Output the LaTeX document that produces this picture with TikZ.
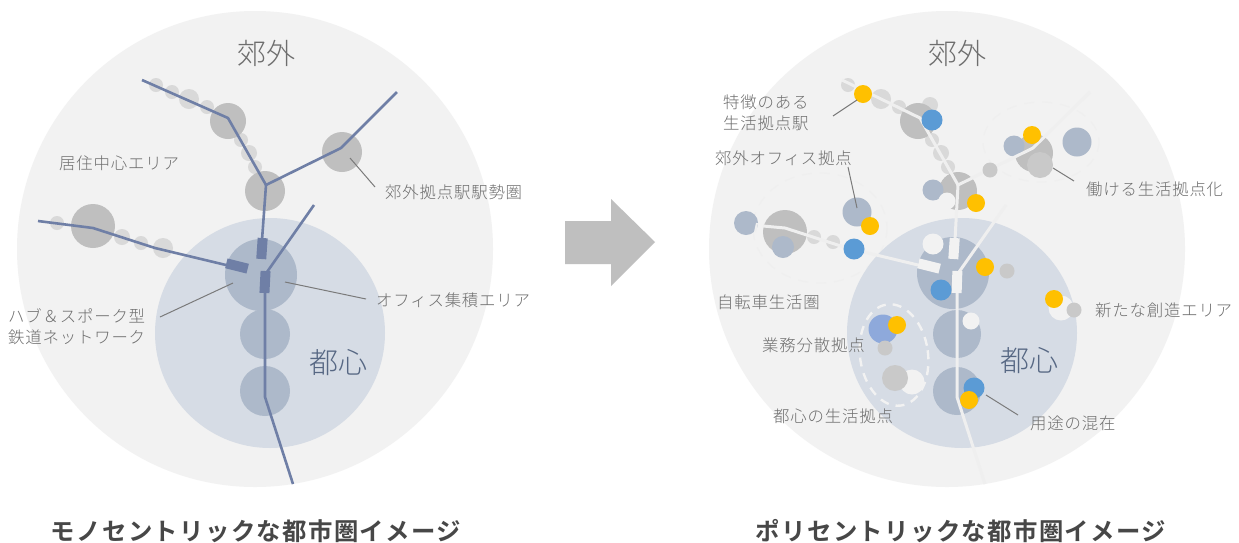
\documentclass[tikz,border=0pt]{standalone}
\usepackage{fontspec}
\setmainfont{Noto Sans CJK JP Light}[BoldFont=Noto Sans CJK JP Bold]
\definecolor{bgc}{HTML}{F2F2F2}
\definecolor{lin}{HTML}{EFEFEF}
\definecolor{cen}{HTML}{D6DCE5}
\definecolor{core}{HTML}{ADB9CA}
\definecolor{gr}{HTML}{BFBFBF}
\definecolor{lg}{HTML}{D9D9D9}
\definecolor{mg}{HTML}{C9C9C9}
\definecolor{rail}{HTML}{6F7FA6}
\definecolor{yel}{HTML}{FFC000}
\definecolor{blu}{HTML}{5B9BD5}
\definecolor{per}{HTML}{8EA9DB}
\definecolor{txt}{HTML}{6E6E6E}
\definecolor{dk}{HTML}{566783}
\tikzset{
 x=1pt,y=-1pt,
 lbl/.style={text=txt,font=\fontsize{16.4}{21}\selectfont\addfontfeature{LetterSpace=5},align=left,inner sep=0pt},
 big/.style={text=txt,font=\fontsize{29}{32}\selectfont,inner sep=0pt},
 ttl/.style={text=black!72,font=\bfseries\fontsize{24.4}{26}\selectfont\addfontfeature{LetterSpace=5.5},inner sep=0pt},
 lead/.style={draw=black!52,line width=1pt},
 line1/.style={draw=rail,line width=2.6pt},
 line2/.style={draw=lin,line width=3pt},
}
\begin{document}
\begin{tikzpicture}
\useasboundingbox (0,0) rectangle (1239,542);
\fill[white] (0,0) rectangle (1239,542);
% LEFT
\fill[bgc] (255,249) circle (238);
\fill[cen] (270,333) circle (115);
\fill[core] (261,275) circle (36);
\fill[core] (265,334) circle (25);
\fill[core] (265,391) circle (25);
\foreach \x/\y/\r in {156/85/7,172/92/7,189/99/10,207/107/7,241/140/7,249/153/8,255/167/7,57/223/7,122/237/8,141/243/7,163/248/10}{\fill[lg] (\x,\y) circle (\r);}
\foreach \x/\y/\r in {228/121/18,265/191/20,342/152/20,93/226/22}{\fill[gr] (\x,\y) circle (\r);}
\coordinate (a1) at (142,80); \coordinate (a2) at (228,118); \coordinate (a3) at (266,185);
\coordinate (b1) at (397,92); \coordinate (b2) at (341,148);
\coordinate (c1) at (38,221); \coordinate (c2) at (93,228); \coordinate (c3) at (155,248); \coordinate (c4) at (226,265);
\coordinate (d1) at (314,205); \coordinate (d2) at (267,272);
\coordinate (e1) at (265,397); \coordinate (e2) at (293,484);
\draw[line1,line join=round] (a1)--(a2)--(a3)--(b2)--(b1);
\draw[line1,line join=round] (a3)--(262,240);
\draw[line1,line join=round] (c1)--(c2)--(c3)--(c4);
\draw[line1] (d1)--(d2);
\draw[line1,line join=round] (265,290)--(e1)--(e2);
\fill[rail,rotate around={-4:(262,248)}] (257,238) rectangle (267,259);
\fill[rail,rotate around={-14:(237,266)}] (226,261) rectangle (248,271);
\fill[rail,rotate around={-3:(265,282)}] (260,271) rectangle (270,293);
\draw[lead] (350,158) -- (375,187);
\draw[lead] (233,283) -- (160,317);
\draw[lead] (285,282) -- (366,299);
\node[big,anchor=center] at (266,53) {郊外};
\node[big,anchor=center,text=dk] at (338,363) {都心};
\node[lbl,anchor=west] at (59,163) {居住中心エリア};
\node[lbl,anchor=west] at (385,192) {郊外拠点駅駅勢圏};
\node[lbl,anchor=west] at (376,300) {オフィス集積エリア};
\node[lbl,anchor=west] at (8,327) {ハブ＆スポーク型\\鉄道ネットワーク};
\node[ttl,anchor=center] at (256,531) {モノセントリックな都市圏イメージ};
% arrow
\fill[gr] (565,221) -- (611,221) -- (611,199) -- (655,242) -- (611,286) -- (611,264) -- (565,264) -- cycle;
% RIGHT
\fill[bgc] (947,249) circle (238);
\draw[lin,line width=1.2pt,dash pattern=on 10pt off 8pt] (1041,142) ellipse (58 and 40);
\draw[lin,line width=1.2pt,dash pattern=on 10pt off 8pt] (820,228) ellipse (67 and 55);
\fill[cen] (962,333) circle (115);
\fill[core] (953,273) circle (36);
\fill[core] (957,334) circle (24);
\fill[core] (957,391) circle (24);
\foreach \x/\y/\r in {848/85/7,881/99/10,899/107/7,930/105/8,932/140/7,941/153/8,948/167/7,814/237/7,833/242/7}{\fill[lg] (\x,\y) circle (\r);}
\foreach \x/\y/\r in {918/121/18,958/191/19,785/232/22}{\fill[gr] (\x,\y) circle (\r);}
\fill[gr] (1034,153) circle (19);
\fill[core] (746,223) circle (12);
\fill[core] (857,212) circle (14.5);
\fill[core] (933,190) circle (10.5);
\fill[core] (1014,146) circle (10.5);
\fill[core] (1077,142) circle (14.5);
\fill[bgc] (947,201) circle (8.5);
% white lines
\draw[line2,line join=round] (842,80)--(920,118)--(958,185)--(1033,148)--(1090,92);
\draw[line2] (958,185)--(955,240);
\draw[line2,line join=round] (763,226)--(785,228)--(847,248)--(918,265);
\draw[line2] (1006,205)--(959,272);
\draw[line2,line join=round] (957,290)--(957,397)--(985,484);
\draw[lin,line width=2pt] (757,223)--(755,232);
\fill[core] (783,247) circle (11);
\fill[mg] (1040,165) circle (13);
\fill[mg] (990,170) circle (7.5);
\fill[bgc,rotate around={-4:(954,249)}] (949,238) rectangle (959,259);
\fill[bgc,rotate around={-14:(929,266)}] (918,261) rectangle (940,271);
\fill[bgc,rotate around={-2:(957,282)}] (952,271) rectangle (962,293);
% centre dots
\fill[bgc] (933,244) circle (10.5);
\fill[bgc] (971,321) circle (8.5);
\fill[bgc] (1061,308) circle (12.5);
\fill[mg] (1074,310) circle (7.5);
\fill[mg] (1007,271) circle (7.5);
\fill[per] (883,329) circle (14.5);
\fill[mg] (885,348) circle (7.5);
\fill[bgc] (912,382) circle (12.5);
\fill[mg] (895,378) circle (13);
\draw[bgc,line width=2.4pt,dash pattern=on 9pt off 7pt,rotate around={8:(894,355)}] (894,355) ellipse (34 and 51);
\foreach \x/\y in {932/120,854/249,941/290,974/388}{\fill[blu] (\x,\y) circle (10.5);}
\foreach \x/\y in {863/94,1032/135,976/203,870/226,985/267,1054/299,897/325,969/400}{\fill[yel] (\x,\y) circle (9);}
\draw[lead] (833,116) -- (857,100);
\draw[lead] (848,167) -- (857,208);
\draw[lead] (1053,168) -- (1074,181);
\draw[lead] (986,395) -- (1018,415);
\node[big,anchor=center] at (957,53) {郊外};
\node[big,anchor=center,text=dk] at (1029,361) {都心};
\node[lbl,anchor=west] at (723,112.5) {特徴のある\\生活拠点駅};
\node[lbl,anchor=west] at (715,158) {郊外オフィス拠点};
\node[lbl,anchor=west] at (1086,189) {働ける生活拠点化};
\node[lbl,anchor=west] at (717,302) {自転車生活圏};
\node[lbl,anchor=west] at (1095,310) {新たな創造エリア};
\node[lbl,anchor=west] at (762,345) {業務分散拠点};
\node[lbl,anchor=west] at (773,416) {都心の生活拠点};
\node[lbl,anchor=west] at (1030,423) {用途の混在};
\node[ttl,anchor=center] at (961,531) {ポリセントリックな都市圏イメージ};
\end{tikzpicture}
\end{document}
